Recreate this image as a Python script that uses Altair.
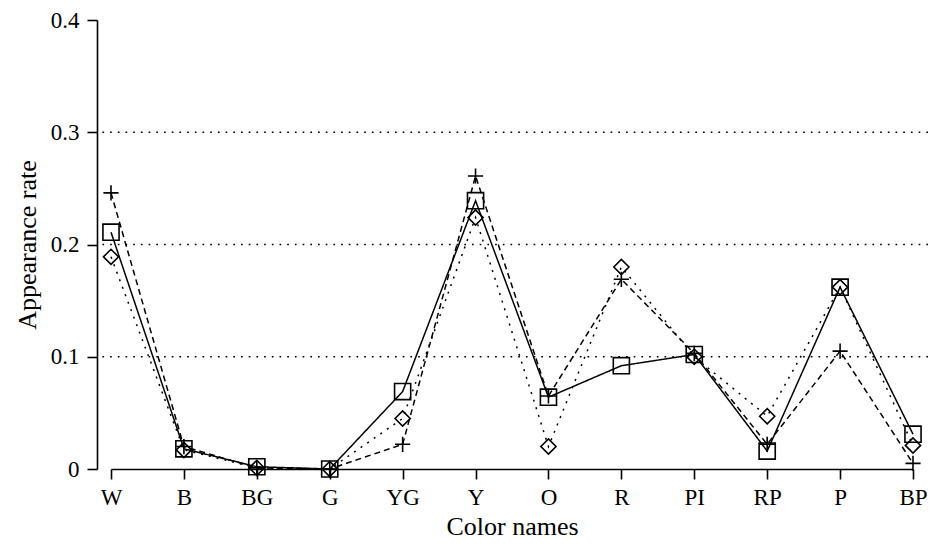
import altair as alt
import pandas as pd

categories = ["W", "B", "BG", "G", "YG", "Y", "O", "R", "PI", "RP", "P", "BP"]
series_solid_square = [0.211, 0.018, 0.002, 0.0, 0.069, 0.239, 0.064, 0.092, 0.102, 0.016, 0.162, 0.031]
series_dashed_plus = [0.246, 0.020, 0.001, 0.0, 0.022, 0.261, 0.065, 0.169, 0.103, 0.022, 0.105, 0.005]
series_dotted_diamond = [0.189, 0.017, 0.001, 0.0, 0.045, 0.224, 0.020, 0.180, 0.100, 0.047, 0.162, 0.021]
y_ticks = [0, 0.1, 0.2, 0.3, 0.4]
grid_values = [0.1, 0.2, 0.3]

FONT = "Liberation Serif"
W, H = 831, 449

def frame(vals):
    return pd.DataFrame({"cat": categories, "val": vals})

x_enc = alt.X("cat:N", sort=categories,
              scale=alt.Scale(type="point", padding=0, range=[14, 816]),
              axis=alt.Axis(title="Color names", labelAngle=0, labelPadding=7,
                            titlePadding=4, titleFontSize=26))
y_enc = alt.Y("val:Q", scale=alt.Scale(domain=[0, 0.4], nice=False, zero=True),
              axis=alt.Axis(title="Appearance rate", values=y_ticks,
                            labelExpr="datum.value == 0 ? '0' : format(datum.value, '.1f')",
                            labelPadding=8, titlePadding=10, titleFontSize=26))

grid = alt.Chart(pd.DataFrame({"g": grid_values})).mark_rule(
    color="black", strokeWidth=1.7, strokeDash=[1.7, 6]
).encode(y=alt.Y("g:Q", scale=alt.Scale(domain=[0, 0.4], nice=False)))

def series(vals, dash, shape, size, sw=1.5):
    base = alt.Chart(frame(vals))
    line = base.mark_line(color="black", strokeWidth=sw, strokeDash=dash).encode(x=x_enc, y=y_enc)
    pts = base.mark_point(shape=shape, size=size, filled=False, color="black",
                          strokeWidth=1.6, opacity=1).encode(x=x_enc, y=y_enc)
    return line + pts

plus_path = "M-1,0L1,0M0,-1L0,1"

chart = alt.layer(
    grid,
    series(series_dotted_diamond, [2, 6], "diamond", 230),
    series(series_dashed_plus, [6, 4], plus_path, 230),
    series(series_solid_square, [1, 0], "square", 260),
).properties(
    width=W, height=H,
    autosize=alt.AutoSizeParams(type="none"),
    padding={"left": 89, "top": 12, "right": 0, "bottom": 70},
).configure_view(stroke=None).configure_axis(
    labelFont=FONT, titleFont=FONT, labelFontSize=23,
    titleFontWeight="normal", labelColor="black", titleColor="black",
    domainColor="black", tickColor="black", domainWidth=1.6, tickWidth=1.6,
    tickSize=10, grid=False
)

chart.save("out.html", embed_options={"renderer": "svg", "actions": False})
